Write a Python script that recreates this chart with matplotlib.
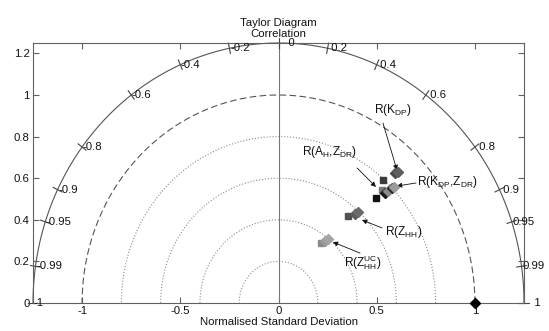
import numpy as np
import matplotlib
matplotlib.use("Agg")
import matplotlib.pyplot as plt

plt.rcParams['font.family'] = ['Liberation Sans', 'DejaVu Sans']
plt.rcParams['mathtext.fontset'] = 'custom'
plt.rcParams['mathtext.rm'] = 'Liberation Sans'
plt.rcParams['mathtext.it'] = 'Liberation Sans'
plt.rcParams['font.size'] = 8.2

# ---- data (normalised std, correlation) ----
square_std = [0.360, 0.548, 0.708, 0.757, 0.795]
square_corr = [0.600, 0.646, 0.700, 0.696, 0.669]
square_color = ['#8a8a8a', '#505050', '#111111', '#7a7a7a', '#3a3a3a']

diamond_std = [0.381, 0.398, 0.579, 0.596, 0.757, 0.774, 0.800, 0.811, 0.862, 0.876]
diamond_corr = [0.622, 0.633, 0.674, 0.679, 0.716, 0.719, 0.722, 0.725, 0.688, 0.694]
diamond_color = ['#9a9a9a', '#a5a5a5', '#5a5a5a', '#6a6a6a',
                 '#1a1a1a', '#8a8a8a', '#2a2a2a', '#9a9a9a', '#4a4a4a', '#5e5e5e']

ref_std = 1.0
ref_corr = 1.0

std_circles = [0.2, 0.4, 0.6, 0.8]
corr_ticks = [-1, -0.99, -0.95, -0.9, -0.8, -0.6, -0.4, -0.2, 0,
              0.2, 0.4, 0.6, 0.8, 0.9, 0.95, 0.99, 1]
corr_labels = ['-1', '-0.99', '-0.95', '-0.9', '-0.8', '-0.6', '-0.4', '-0.2', '   0',
               ' 0.2', ' 0.4', ' 0.6', ' 0.8', ' 0.9', '0.95', '0.99', '   1']

xticks = [-1, -0.5, 0, 0.5, 1]
xticklabels = ['-1', '-0.5', '0', '0.5', '1']
yticks = [0, 0.2, 0.4, 0.6, 0.8, 1, 1.2]
yticklabels = ['0', '0.2', '0.4', '0.6', '0.8', '1', '1.2']

labels = [r'R(K$_{\rm DP}$)', r'R(A$_{\rm H}$,Z$_{\rm DR}$)', r'R(K$_{\rm DP}$,Z$_{\rm DR}$)',
          r'R(Z$_{\rm HH}$)', r'R(Z$^{\rm UC}_{\rm HH}$)']

RMAX = 1.25


def to_xy(s, c):
    s = np.asarray(s, float)
    c = np.asarray(c, float)
    return s * c, s * np.sqrt(np.clip(1 - c ** 2, 0, None))


fig = plt.figure(figsize=(5.49, 3.31), dpi=100)
ax = fig.add_axes([0.0601, 0.0846, 0.8944, 0.7855])
ax.set_xlim(-RMAX, RMAX)
ax.set_ylim(0, RMAX)

gray = '#606060'
th = np.linspace(0, np.pi, 400)

# std circles
for r in std_circles:
    ax.plot(r * np.cos(th), r * np.sin(th), ls=':', color='#8c8c8c', lw=0.8)
ax.plot(np.cos(th), np.sin(th), ls=(0, (6, 3)), color='#555555', lw=0.8)
ax.plot(RMAX * np.cos(th), RMAX * np.sin(th), '-', color='#555555', lw=0.8, clip_on=False)
ax.plot([0, 0], [0, RMAX], '-', color='#777777', lw=0.8)

# correlation ticks + labels
for c, lab in zip(corr_ticks, corr_labels):
    ang = np.arccos(c)
    r1, r2 = RMAX - 0.025, RMAX + 0.025
    ax.plot([r1 * np.cos(ang), r2 * np.cos(ang)], [r1 * np.sin(ang), r2 * np.sin(ang)],
            '-', color='#444444', lw=0.8, clip_on=False)
    ax.annotate(lab, xy=(RMAX * np.cos(ang), RMAX * np.sin(ang)), xytext=(0.5, 0),
                textcoords='offset points', ha='left', va='center', color='#111111',
                annotation_clip=False)

# points
sx, sy = to_xy(square_std, square_corr)
for x, y, col in zip(sx, sy, square_color):
    ax.plot(x, y, 's', color=col, ms=5, mec=col, zorder=5)
dx, dy = to_xy(diamond_std, diamond_corr)
for x, y, col in zip(dx, dy, diamond_color):
    ax.plot(x, y, 'D', color=col, ms=4.8, mec=col, zorder=6)
rx, ry = to_xy([ref_std], [ref_corr])
ax.plot(rx, ry, 'D', color='k', ms=5.5, clip_on=False, zorder=7)

# annotations
label_pos = [(0.58, 0.928), (0.262, 0.726), (0.86, 0.582), (0.64, 0.341), (0.43, 0.192)]
arrow_from = [(0.532, 0.865), (0.40, 0.649), (0.70, 0.577), (0.527, 0.361), (0.415, 0.240)]
arrow_to = [(0.603, 0.639), (0.496, 0.558), (0.603, 0.5625), (0.425, 0.399), (0.277, 0.293)]
for lab, p, a0, a1 in zip(labels, label_pos, arrow_from, arrow_to):
    ax.text(p[0], p[1], lab, ha='center', va='center', color='#111111', fontsize=8.6)
    ax.annotate('', xy=a1, xytext=a0,
                arrowprops=dict(arrowstyle='-|>', color='#111111', lw=0.6,
                                mutation_scale=7, shrinkA=0, shrinkB=0))

ax.set_xticks(xticks)
ax.set_xticklabels(xticklabels)
ax.set_yticks(yticks)
ax.set_yticklabels(yticklabels)
ax.tick_params(direction='in', length=4, top=True, right=True, color=gray,
               labelcolor='#111111', pad=2.5, width=0.8)
for sp in ax.spines.values():
    sp.set_color(gray)
    sp.set_linewidth(0.8)

ax.set_xlabel('Normalised Standard Deviation', labelpad=0.5, color='#111111')
ax.set_title('Taylor Diagram\nCorrelation', color='#111111', pad=4.0, linespacing=1.2,
             fontsize=8.2)

fig.savefig('out.png', dpi=100)
